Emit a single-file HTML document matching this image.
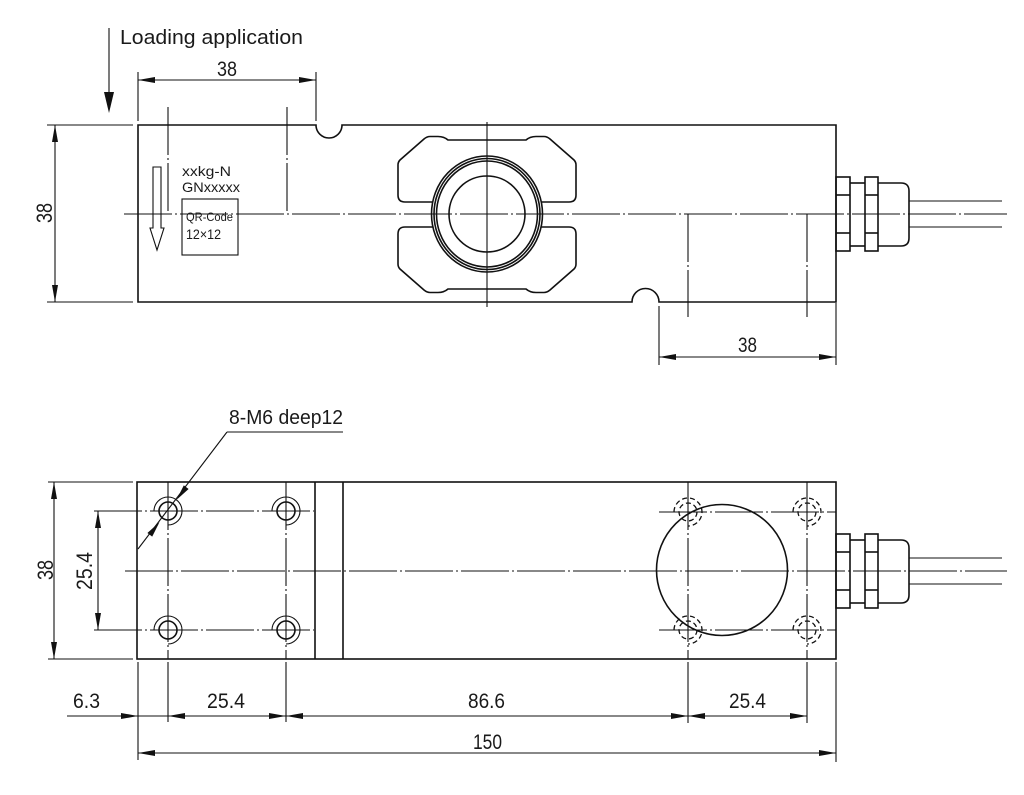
<!DOCTYPE html>
<html><head><meta charset="utf-8"><style>
html,body{margin:0;padding:0;background:#fff;}
svg{display:block;}
text{font-family:"Liberation Sans",sans-serif;fill:#1a1a1a;}
.o{stroke:#111;stroke-width:1.6;fill:none;}
.t{stroke:#111;stroke-width:1.1;fill:none;}
.c{stroke:#111;stroke-width:1.1;fill:none;stroke-dasharray:48 3 2 3;}
.h{stroke:#111;stroke-width:1.3;fill:none;stroke-dasharray:5 3;}
.a{fill:#111;stroke:none;}
</style></head><body>
<svg width="1024" height="795" viewBox="0 0 1024 795" xmlns="http://www.w3.org/2000/svg">
<!-- ============ TOP VIEW ============ -->
<line class="t" x1="109" y1="28" x2="109" y2="95"/>
<polygon class="a" points="109,113 104,92 114,92"/>
<text x="120" y="44" font-size="20" textLength="183" lengthAdjust="spacingAndGlyphs">Loading application</text>

<line class="t" x1="138" y1="72" x2="138" y2="121"/>
<line class="t" x1="316" y1="72" x2="316" y2="121"/>
<line class="t" x1="138" y1="80" x2="316" y2="80"/>
<polygon class="a" points="138,80 155,77 155,83"/>
<polygon class="a" points="316,80 299,77 299,83"/>
<text x="217" y="76" font-size="21" textLength="20" lengthAdjust="spacingAndGlyphs">38</text>

<line class="t" x1="47" y1="125" x2="133" y2="125"/>
<line class="t" x1="47" y1="302" x2="133" y2="302"/>
<line class="t" x1="55" y1="125" x2="55" y2="302"/>
<polygon class="a" points="55,125 52,142 58,142"/>
<polygon class="a" points="55,302 52,285 58,285"/>
<text transform="translate(52,213) rotate(-90)" text-anchor="middle" font-size="22" textLength="20" lengthAdjust="spacingAndGlyphs">38</text>

<path class="o" d="M138,125 H316 A13,13 0 0 0 342,125 H836 V302 H659 A13.5,13.5 0 0 0 632,302 H138 Z"/>

<line class="c" x1="124" y1="214" x2="1007" y2="214"/>
<line class="c" x1="168" y1="107" x2="168" y2="214"/>
<line class="c" x1="287" y1="107" x2="287" y2="214"/>
<line class="c" x1="688" y1="214" x2="688" y2="317"/>
<line class="c" x1="807" y1="214" x2="807" y2="317"/>
<line class="t" x1="487" y1="122" x2="487" y2="307"/>

<polygon class="t" stroke-width="1.3" points="153,167 161,167 161,228 164,228 157,250 150,228 153,228"/>

<text x="182" y="176" font-size="14" textLength="49" lengthAdjust="spacingAndGlyphs">xxkg-N</text>
<text x="182" y="192" font-size="14" textLength="58" lengthAdjust="spacingAndGlyphs">GNxxxxx</text>
<rect class="t" stroke-width="1.3" x="182" y="199" width="56" height="56"/>
<text x="186" y="221" font-size="11.5" textLength="47" lengthAdjust="spacingAndGlyphs">QR-Code</text>
<text x="186" y="239" font-size="13.5" textLength="35" lengthAdjust="spacingAndGlyphs">12×12</text>

<path class="o" d="M541,202 H569 Q576,202 576,195 V165 Q576,162 574,160 L550,139 Q547,136.5 544,136.5 H536 Q530,136.5 526,140 H448 Q444,136.5 438,136.5 H430 Q427,136.5 424,139 L400,160 Q398,162 398,165 V195 Q398,202 405,202 H433"/>
<path class="o" d="M433,227 H405 Q398,227 398,234 V264 Q398,267 400,269 L424,290 Q427,292.5 430,292.5 H438 Q444,292.5 448,289 H526 Q530,292.5 536,292.5 H544 Q547,292.5 550,290 L574,269 Q576,267 576,264 V234 Q576,227 569,227 H541"/>
<ellipse class="o" cx="487" cy="214" rx="55.5" ry="58"/>
<ellipse class="o" cx="487" cy="214" rx="53" ry="55.5"/>
<ellipse class="o" cx="487" cy="214" rx="50.5" ry="53"/>
<circle class="o" cx="487" cy="214" r="38"/>

<line class="t" x1="659" y1="306" x2="659" y2="365"/>
<line class="t" x1="836" y1="303" x2="836" y2="365"/>
<line class="t" x1="659" y1="357" x2="836" y2="357"/>
<polygon class="a" points="659,357 676,354 676,360"/>
<polygon class="a" points="836,357 819,354 819,360"/>
<text x="738" y="352" font-size="21" textLength="19" lengthAdjust="spacingAndGlyphs">38</text>

<rect class="o" x="836" y="177" width="14" height="74"/>
<line class="o" x1="836" y1="195" x2="850" y2="195"/>
<line class="o" x1="836" y1="233" x2="850" y2="233"/>
<line class="o" x1="850" y1="183" x2="865" y2="183"/>
<line class="o" x1="850" y1="246" x2="865" y2="246"/>
<rect class="o" x="865" y="177" width="13" height="74"/>
<line class="o" x1="865" y1="195" x2="878" y2="195"/>
<line class="o" x1="865" y1="233" x2="878" y2="233"/>
<path class="o" d="M878,183 H901 Q909,183 909,191 V238 Q909,246 901,246 H878"/>
<line class="t" x1="909" y1="201" x2="1002" y2="201"/>
<line class="t" x1="909" y1="227" x2="1002" y2="227"/>

<!-- ============ BOTTOM VIEW ============ -->
<text x="229" y="424" font-size="20" textLength="114" lengthAdjust="spacingAndGlyphs">8-M6 deep12</text>
<line class="t" x1="227" y1="432" x2="343" y2="432"/>
<line class="t" x1="227" y1="432" x2="138" y2="549"/>
<polygon class="a" points="176.5,499.9 188.6,489.0 183.8,485.4"/>
<polygon class="a" points="159.5,522.1 152.2,536.6 147.4,533.0"/>

<rect class="o" x="137" y="482" width="699" height="177"/>
<line class="o" x1="315" y1="482" x2="315" y2="659"/>
<line class="o" x1="343" y1="482" x2="343" y2="659"/>

<line class="t" x1="48" y1="482" x2="133" y2="482"/>
<line class="t" x1="48" y1="659" x2="133" y2="659"/>
<line class="t" x1="54" y1="482" x2="54" y2="659"/>
<polygon class="a" points="54,482 51,499 57,499"/>
<polygon class="a" points="54,659 51,642 57,642"/>
<text transform="translate(53,570) rotate(-90)" text-anchor="middle" font-size="22" textLength="20" lengthAdjust="spacingAndGlyphs">38</text>

<line class="t" x1="98" y1="511" x2="98" y2="630"/>
<polygon class="a" points="98,511 95,528 101,528"/>
<polygon class="a" points="98,630 95,613 101,613"/>
<text transform="translate(92,571) rotate(-90)" text-anchor="middle" font-size="22" textLength="38" lengthAdjust="spacingAndGlyphs">25.4</text>

<line class="c" x1="125" y1="571" x2="1007" y2="571"/>
<line class="c" x1="94" y1="511" x2="314" y2="511"/>
<line class="c" x1="94" y1="630" x2="314" y2="630"/>
<line class="c" x1="659" y1="512" x2="836" y2="512"/>
<line class="c" x1="659" y1="630" x2="836" y2="630"/>
<line class="c" x1="168" y1="482" x2="168" y2="659"/>
<line class="c" x1="286" y1="482" x2="286" y2="659"/>
<line class="c" x1="688" y1="482" x2="688" y2="659"/>
<line class="c" x1="807" y1="482" x2="807" y2="659"/>

<g>
<circle class="o" cx="168" cy="511" r="9"/>
<path class="t" stroke-width="1.4" d="M154,511 A14,14 0 1 1 168,525"/>
<circle class="o" cx="286" cy="511" r="9"/>
<path class="t" stroke-width="1.4" d="M272,511 A14,14 0 1 1 286,525"/>
<circle class="o" cx="168" cy="630" r="9"/>
<path class="t" stroke-width="1.4" d="M154,630 A14,14 0 1 1 168,644"/>
<circle class="o" cx="286" cy="630" r="9"/>
<path class="t" stroke-width="1.4" d="M272,630 A14,14 0 1 1 286,644"/>
</g>

<g>
<circle class="h" cx="688" cy="512" r="9"/>
<path class="h" d="M674,512 A14,14 0 1 1 688,526"/>
<circle class="h" cx="807" cy="512" r="9"/>
<path class="h" d="M793,512 A14,14 0 1 1 807,526"/>
<circle class="h" cx="688" cy="630" r="9"/>
<path class="h" d="M674,630 A14,14 0 1 1 688,644"/>
<circle class="h" cx="807" cy="630" r="9"/>
<path class="h" d="M793,630 A14,14 0 1 1 807,644"/>
</g>

<circle class="o" cx="722" cy="570" r="65.5"/>

<rect class="o" x="836" y="534" width="14" height="74"/>
<line class="o" x1="836" y1="552" x2="850" y2="552"/>
<line class="o" x1="836" y1="590" x2="850" y2="590"/>
<line class="o" x1="850" y1="540" x2="865" y2="540"/>
<line class="o" x1="850" y1="603" x2="865" y2="603"/>
<rect class="o" x="865" y="534" width="13" height="74"/>
<line class="o" x1="865" y1="552" x2="878" y2="552"/>
<line class="o" x1="865" y1="590" x2="878" y2="590"/>
<path class="o" d="M878,540 H901 Q909,540 909,548 V595 Q909,603 901,603 H878"/>
<line class="t" x1="909" y1="558" x2="1002" y2="558"/>
<line class="t" x1="909" y1="584" x2="1002" y2="584"/>

<line class="t" x1="138" y1="662" x2="138" y2="760"/>
<line class="t" x1="168" y1="662" x2="168" y2="722"/>
<line class="t" x1="286" y1="662" x2="286" y2="722"/>
<line class="t" x1="688" y1="662" x2="688" y2="723"/>
<line class="t" x1="807" y1="662" x2="807" y2="723"/>
<line class="t" x1="836" y1="662" x2="836" y2="762"/>

<line class="t" x1="67" y1="716" x2="807" y2="716"/>
<polygon class="a" points="138,716 121,713 121,719"/>
<polygon class="a" points="168,716 185,713 185,719"/>
<polygon class="a" points="286,716 269,713 269,719"/>
<polygon class="a" points="286,716 303,713 303,719"/>
<polygon class="a" points="688,716 671,713 671,719"/>
<polygon class="a" points="688,716 705,713 705,719"/>
<polygon class="a" points="807,716 790,713 790,719"/>
<text x="73" y="708" font-size="21" textLength="27" lengthAdjust="spacingAndGlyphs">6.3</text>
<text x="207" y="708" font-size="21" textLength="38" lengthAdjust="spacingAndGlyphs">25.4</text>
<text x="468" y="708" font-size="21" textLength="37" lengthAdjust="spacingAndGlyphs">86.6</text>
<text x="729" y="708" font-size="21" textLength="37" lengthAdjust="spacingAndGlyphs">25.4</text>

<line class="t" x1="138" y1="753" x2="836" y2="753"/>
<polygon class="a" points="138,753 155,750 155,756"/>
<polygon class="a" points="836,753 819,750 819,756"/>
<text x="473" y="749" font-size="21" textLength="29" lengthAdjust="spacingAndGlyphs">150</text>
</svg>
</body></html>
